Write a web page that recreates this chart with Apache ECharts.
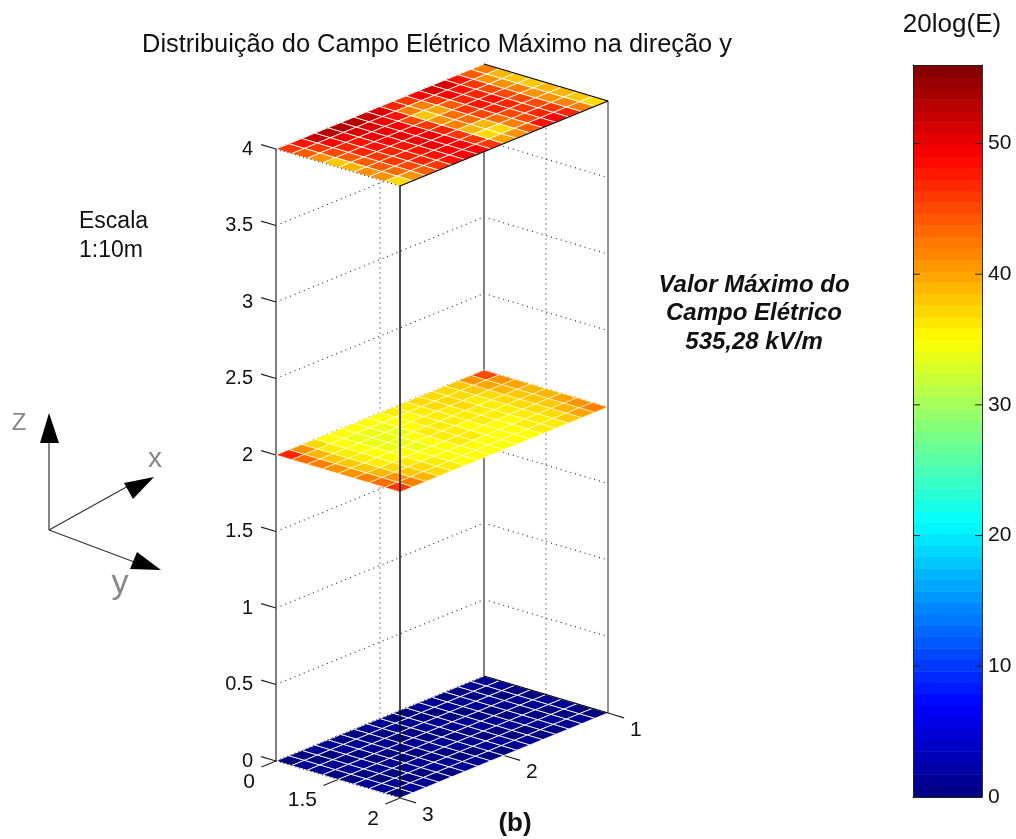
<!DOCTYPE html>
<html><head><meta charset="utf-8">
<style>html,body{margin:0;padding:0;background:#fff}#c{width:1016px;height:839px}</style>
<script src="https://cdn.jsdelivr.net/npm/echarts@6/dist/echarts.min.js"></script>
</head><body><div id="c"></div>
<script>
const font = '"Liberation Sans", Arial, sans-serif';
const zTicks = [0, 0.5, 1, 1.5, 2, 2.5, 3, 3.5, 4];
const xTickLabels = ['0', '1.5', '2'];
const xTickPos = [0, 0.5, 1];
const yTickLabels = ['1', '2', '3'];
const yTickPos = [1, 0.5, 0];
const planeHeights = { top: 4, mid: 2, floor: 0 };
const colorbarTicks = [0, 10, 20, 30, 40, 50];
const colorMax = 56;

// 20log(E) per mesh cell, rows across the short edge, columns along the long edge
const topSlice = [
 [46,48,52,53,53,53,52,51,47,46,49,51,51,48,44,42],
 [44,46,49,50,51,51,50,48,42,42,46,49,48,46,41,39],
 [41,45,47,48,50,50,49,45,38,40,44,47,47,45,41,38],
 [38,44,47,48,49,50,49,46,41,43,46,48,48,45,42,38],
 [39,44,46,47,48,50,50,47,42,43,45,47,47,45,41,39],
 [41,44,46,47,48,50,49,46,39,39,43,45,46,45,41,39],
 [41,43,45,47,48,49,49,46,37,37,42,45,47,46,42,38],
 [37,41,44,46,48,49,49,46,40,41,44,48,49,47,42,37]
];
const midSlice = [
 [47,41,37,35,35,35,35,35,36,36,37,37,37,38,41,45],
 [43,39,36,35,34,34,34,35,35,36,37,37,37,38,40,41],
 [42,38,36,35,34,34,34,35,36,36,36,37,36,37,39,40],
 [41,38,36,35,34,34,35,36,36,36,36,36,36,37,38,39],
 [41,38,36,35,35,34,35,36,36,35,36,36,36,37,38,39],
 [42,39,37,36,35,35,35,36,36,35,35,35,36,37,38,40],
 [43,41,38,37,36,35,35,35,35,35,35,36,36,37,39,41],
 [46,42,39,37,36,35,35,35,35,35,35,36,36,38,40,42]
];
const floorSlice = [
 [0,0,1,1,0,0,1,1,0,0,1,1,0,0,1,1],
 [1,0,0,1,1,0,0,1,1,0,0,1,1,0,0,1],
 [1,1,0,0,1,1,0,0,1,1,0,0,1,1,0,0],
 [0,1,1,0,0,1,1,0,0,1,1,0,0,1,1,0],
 [0,0,1,1,0,0,1,1,0,0,1,1,0,0,1,1],
 [1,0,0,1,1,0,0,1,1,0,0,1,1,0,0,1],
 [1,1,0,0,1,1,0,0,1,1,0,0,1,1,0,0],
 [0,1,1,0,0,1,1,0,0,1,1,0,0,1,1,0]
];

// oblique view of the box, in axis units of the hidden horizontal axis and the z axis
const view = { hu: 124 / 332, hv: 208 / 332, zu: -37 / 153, zv: 85 / 153 };
function project(api, u, v, z) {
  return api.coord([view.hu * u + view.hv * v, z + view.zu * u + view.zv * v]);
}
function jet(t) {
  const c = x => Math.round(255 * Math.max(0, Math.min(1, x)));
  return 'rgb(' + c(Math.min(4 * t - 1.5, -4 * t + 4.5)) + ',' +
    c(Math.min(4 * t - 0.5, -4 * t + 3.5)) + ',' + c(Math.min(4 * t + 0.5, -4 * t + 2.5)) + ')';
}
function lineSeries(name, lines, style) {
  return {
    type: 'custom', name, xAxisIndex: 0, yAxisIndex: 0, silent: true, clip: false,
    data: lines,
    renderItem(p, api) {
      const a = project(api, api.value(0), api.value(1), api.value(2));
      const b = project(api, api.value(3), api.value(4), api.value(5));
      return { type: 'line', shape: { x1: a[0], y1: a[1], x2: b[0], y2: b[1] }, style };
    }
  };
}
function planeSeries(name, rows, height, stroke) {
  const nu = rows.length, nv = rows[0].length, cells = [];
  rows.forEach((r, i) => r.forEach((val, j) => cells.push([i, j, val])));
  return {
    type: 'custom', name, xAxisIndex: 0, yAxisIndex: 0, silent: true, clip: false,
    data: cells,
    renderItem(p, api) {
      const i = api.value(0), j = api.value(1);
      const pts = [[i, j], [i + 1, j], [i + 1, j + 1], [i, j + 1]]
        .map(q => project(api, q[0] / nu, q[1] / nv, height));
      return { type: 'polygon', shape: { points: pts },
        style: { fill: jet(api.value(2) / colorMax), stroke, lineWidth: 1 } };
    }
  };
}
function labelSeries(name, labels, ux, vx, dx, dy, align) {
  return {
    type: 'custom', name, xAxisIndex: 0, yAxisIndex: 0, silent: true, clip: false,
    data: labels.map((t, i) => [ux[i], vx[i], i]),
    renderItem(p, api) {
      const a = project(api, api.value(0), api.value(1), 0);
      return { type: 'text', x: a[0] + dx, y: a[1] + dy,
        style: { text: labels[p.dataIndex], font: '21px ' + font, fill: '#111', align, verticalAlign: 'middle' } };
    }
  };
}

// box construction lines [u1,v1,z1,u2,v2,z2]
const wallGrid = [];
zTicks.forEach(z => {
  wallGrid.push([0, 0, z, 0, 1, z]);
  wallGrid.push([0, 1, z, 1, 1, z]);
});
const wallVerticals = [[0, 0.5, 0, 0, 0.5, 4], [0.5, 1, 0, 0.5, 1, 4]];
const backEdges = [[0, 0, 0, 0, 0, 4], [0, 1, 0, 0, 1, 4]];
const frontVerticals = [[1, 0, 0, 1, 0, 4]];
const rightVertical = [[1, 1, 0, 1, 1, 4]];
const solidEdges = [[0, 1, 4, 1, 1, 4], [1, 0, 4, 1, 1, 4], [0, 1, 0, 1, 1, 0]];
const dottedEdges = [[0, 0, 4, 1, 0, 4], [0, 0, 0, 1, 0, 0], [0, 0, 0, 0, 1, 0]];
const ticks = [];
zTicks.forEach(z => ticks.push([0, 0, z, -0.12, 0, z]));
xTickPos.forEach(u => ticks.push([u, 0, 0, u, -0.07, 0]));
yTickPos.forEach(v => ticks.push([1, v, 0, 1.13, v, 0]));

// colorbar bands, one per colormap level
const bandCount = 64;
const bands = [];
for (let k = 0; k < bandCount; k++) bands.push([k, k + 1]);

const gt = (text, x, y, size, extra) => ({ type: 'text', x, y, silent: true,
  style: Object.assign({ text, font: size + 'px ' + font, fill: '#111', align: 'center', verticalAlign: 'middle' }, extra || {}) });
const gl = (x1, y1, x2, y2) => ({ type: 'line', silent: true, shape: { x1, y1, x2, y2 }, style: { stroke: '#333', lineWidth: 1.2 } });
const gp = pts => ({ type: 'polygon', silent: true, shape: { points: pts }, style: { fill: '#000' } });
const italicBold = { font: 'italic bold 24px ' + font };

const option = {
  backgroundColor: '#fff',
  animation: false,
  title: { text: 'Distribuição do Campo Elétrico Máximo na direção y', left: 432, top: 27, textAlign: 'center',
    textStyle: { fontFamily: font, fontSize: 25.4, fontWeight: 'normal', color: '#111' } },
  grid: [
    { left: 276, top: 149, width: 332, height: 612, show: false },
    { left: 913, top: 65, width: 69, height: 732, show: false }
  ],
  xAxis: [
    { type: 'value', gridIndex: 0, min: 0, max: 1, show: false },
    { type: 'value', gridIndex: 1, min: 0, max: 1, position: 'top', show: true, z: 5,
      axisLine: { show: true, onZero: false, lineStyle: { color: '#222' } }, axisTick: { show: false }, axisLabel: { show: false }, splitLine: { show: false } },
    { type: 'value', gridIndex: 1, min: 0, max: 1, position: 'bottom', show: true, z: 5,
      axisLine: { show: true, onZero: false, lineStyle: { color: '#222' } }, axisTick: { show: false }, axisLabel: { show: false }, splitLine: { show: false } }
  ],
  yAxis: [
    { type: 'value', gridIndex: 0, min: 0, max: 4, interval: 0.5, position: 'left',
      axisLine: { show: false }, axisTick: { show: false }, splitLine: { show: false },
      axisLabel: { margin: 23, fontFamily: font, fontSize: 20, color: '#111', padding: [0, 0, 12, 0] } },
    { type: 'value', gridIndex: 1, min: 0, max: colorMax, interval: 10, position: 'right', z: 5,
      axisLine: { show: true, onZero: false, lineStyle: { color: '#333' } },
      axisTick: { show: false }, splitLine: { show: false },
      axisLabel: { margin: 6, fontFamily: font, fontSize: 21, color: '#111', showMaxLabel: false, padding: [4, 0, 0, 0] } },
    { type: 'value', gridIndex: 1, min: 0, max: colorMax, interval: 10, position: 'left', z: 5,
      axisLine: { show: true, onZero: false, lineStyle: { color: '#222' } },
      axisTick: { show: false }, splitLine: { show: false },
      axisLabel: { show: false } }
  ],
  graphic: [
    gt('20log(E)', 952, 25, 26),
    gt('Escala', 79, 222, 23, { align: 'left' }), gt('1:10m', 79, 251, 23, { align: 'left' }),
    gt('Valor Máximo do', 754, 285, 24, italicBold),
    gt('Campo Elétrico', 754, 313, 24, italicBold),
    gt('535,28 kV/m', 754, 342, 24, italicBold),
    gt('(b)', 515, 824, 26, { font: 'bold 26px ' + font }),
    gl(49, 530, 49, 440), gl(49, 530, 130, 485), gl(49, 530, 137, 563),
    gp([[49, 413], [40, 443], [59, 443]]),
    gp([[154, 477], [124, 483], [133, 499]]),
    gp([[161, 570], [137, 552], [130, 569]]),
    gt('Z', 19, 423, 24, { fill: '#888' }),
    gt('x', 155, 459, 28, { fill: '#888' }),
    gt('y', 120, 584, 34, { fill: '#888' })
  ],
  series: [
    lineSeries('wall grid', wallGrid, { stroke: '#333', lineWidth: 1.2, lineDash: [1, 4] }),
    lineSeries('wall verticals', wallVerticals, { stroke: '#333', lineWidth: 1.2, lineDash: [1, 4] }),
    lineSeries('back edges', backEdges, { stroke: '#808080', lineWidth: 2 }),
    lineSeries('ticks', ticks, { stroke: '#222', lineWidth: 1.2 }),
    planeSeries('z=0', floorSlice, planeHeights.floor, 'rgba(255,255,255,0.85)'),
    planeSeries('z=2', midSlice, planeHeights.mid, 'rgba(255,255,225,0.65)'),
    planeSeries('z=4', topSlice, planeHeights.top, 'rgba(255,255,255,0.85)'),
    lineSeries('front vertical', frontVerticals, { stroke: '#000', lineWidth: 1.4 }),
    lineSeries('right vertical', rightVertical, { stroke: '#222', lineWidth: 1 }),
    lineSeries('solid edges', solidEdges, { stroke: '#000', lineWidth: 1.2 }),
    lineSeries('dotted edges', dottedEdges, { stroke: '#222', lineWidth: 1, lineDash: [1, 3] }),
    labelSeries('x labels', xTickLabels, [0, 0.5, 1], [0, 0, 0], -21, 21, 'right'),
    labelSeries('y labels', yTickLabels, [1, 1, 1], yTickPos, 22, 17, 'left'),
    {
      type: 'custom', name: 'colorbar', xAxisIndex: 1, yAxisIndex: 1, silent: true, z: 1,
      data: bands,
      renderItem(p, api) {
        const scale = colorMax / bandCount;
        const lo = api.coord([0, api.value(0) * scale]);
        const hi = api.coord([1, api.value(1) * scale]);
        return { type: 'rect', shape: { x: lo[0], y: hi[1], width: hi[0] - lo[0], height: lo[1] - hi[1] + 0.5 },
          style: { fill: jet((api.value(0) + 0.5) / bandCount) } };
      }
    },
    {
      type: 'custom', name: 'colorbar ticks', xAxisIndex: 1, yAxisIndex: 1, silent: true, z: 4,
      data: colorbarTicks.slice(1).map(t => [t]),
      renderItem(p, api) {
        const l = api.coord([0, api.value(0)]), r = api.coord([1, api.value(0)]);
        const st = { stroke: '#222', lineWidth: 1 };
        return { type: 'group', children: [
          { type: 'line', shape: { x1: l[0], y1: l[1], x2: l[0] + 7, y2: l[1] }, style: st },
          { type: 'line', shape: { x1: r[0] - 7, y1: r[1], x2: r[0], y2: r[1] }, style: st }
        ] };
      }
    }
  ]
};
const chart = echarts.init(document.getElementById('c'), null, { renderer: 'canvas' });
chart.setOption(option);
</script></body></html>
